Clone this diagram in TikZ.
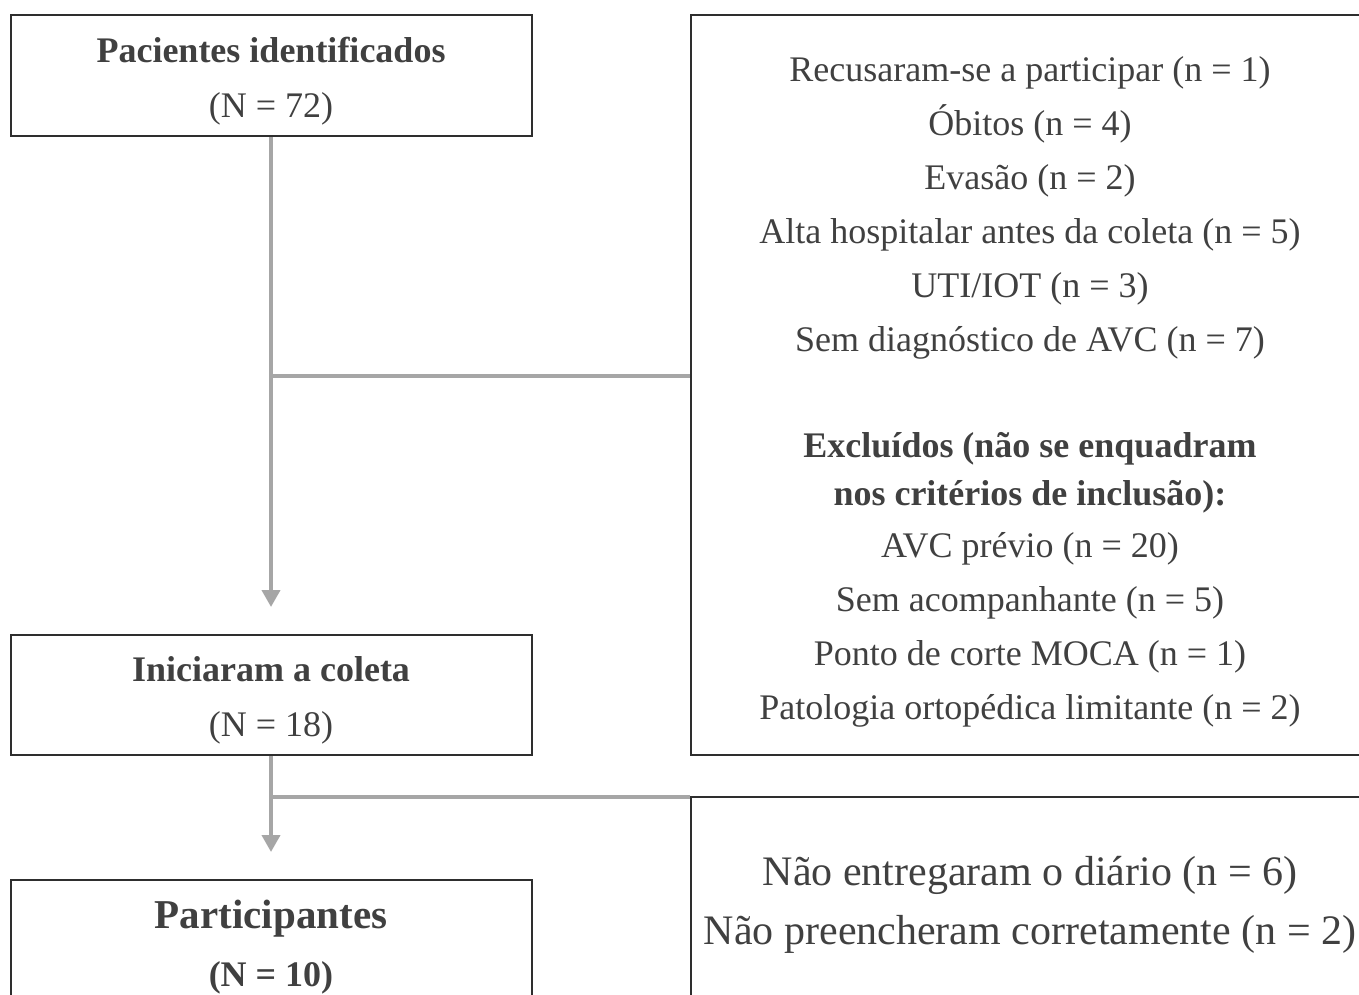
\documentclass[tikz,border=0pt]{standalone}
\usepackage{fontspec}
\setmainfont{Liberation Serif}
\usepackage{tikz}
\usetikzlibrary{arrows.meta,positioning}
\definecolor{Ink}{HTML}{404040}
\definecolor{Frame}{HTML}{2E2E2E}
\definecolor{LineGray}{HTML}{A6A6A6}
\newcommand{\bodysize}{\fontsize{18}{27}\selectfont}
\newcommand{\bigsize}{\fontsize{21}{29.5}\selectfont}
\newcommand{\lift}[1]{\rule{0pt}{#1}}

\begin{document}
\begin{tikzpicture}[x=0.5pt,y=-0.5pt,>=Latex,
    every node/.style={text=Ink,font=\bodysize},
    box/.style={draw=Frame,line width=1pt,align=center,inner sep=0pt},
    flow/.style={draw=LineGray,line width=2pt,-{Triangle[width=9pt,length=8.5pt]},shorten >=13.5pt},
    branch/.style={draw=LineGray,line width=2pt}]
    \useasboundingbox (0,0) rectangle (1359,995);

    % left column
    \node[box,minimum width=260.5pt,minimum height=60.5pt] (ident) at (271,75.5)
      {\lift{18.5pt}\textbf{Pacientes identificados}\\[0.5pt](N = 72)};
    \node[box,minimum width=260.5pt,minimum height=60pt] (inic) at (271,695)
      {\lift{18pt}\textbf{Iniciaram a coleta}\\[0.5pt](N = 18)};
    \node[box,minimum width=260.5pt,minimum height=60.5pt] (part) at (271,940.5)
      {{\fontsize{20.5}{29}\selectfont\lift{20.5pt}\textbf{Participantes}}\\[2pt]\textbf{(N = 10)}};

    % right column
    \node[box,minimum width=339pt,minimum height=370pt] (excl1) at (1030,385)
      {\lift{19pt}Recusaram-se a participar (n = 1)\\
       Óbitos (n = 4)\\
       Evasão (n = 2)\\
       Alta hospitalar antes da coleta (n = 5)\\
       UTI/IOT (n = 3)\\
       Sem diagnóstico de AVC (n = 7)\\[26pt]
       \textbf{Excluídos (não se enquadram}\\[-3pt]
       \textbf{nos critérios de inclusão):}\\[-1pt]
       AVC prévio (n = 20)\\
       Sem acompanhante (n = 5)\\
       Ponto de corte MOCA (n = 1)\\
       Patologia ortopédica limitante (n = 2)};
    \node[box,minimum width=339pt,minimum height=104.5pt,font=\bigsize] (excl2) at (1030,901.5)
      {\lift{18pt}Não entregaram o diário (n = 6)\\
       Não preencheram corretamente (n = 2)};

    % connectors
    \draw[flow] (ident.south) -- (inic.north);
    \coordinate (cut1) at (271,376);
    \draw[branch] (cut1) -- (cut1 -| excl1.west);
    \draw[flow] (inic.south) -- (part.north);
    \coordinate (cut2) at (271,797);
    \draw[branch] (cut2) -- (cut2 -| excl2.west);
\end{tikzpicture}
\end{document}
